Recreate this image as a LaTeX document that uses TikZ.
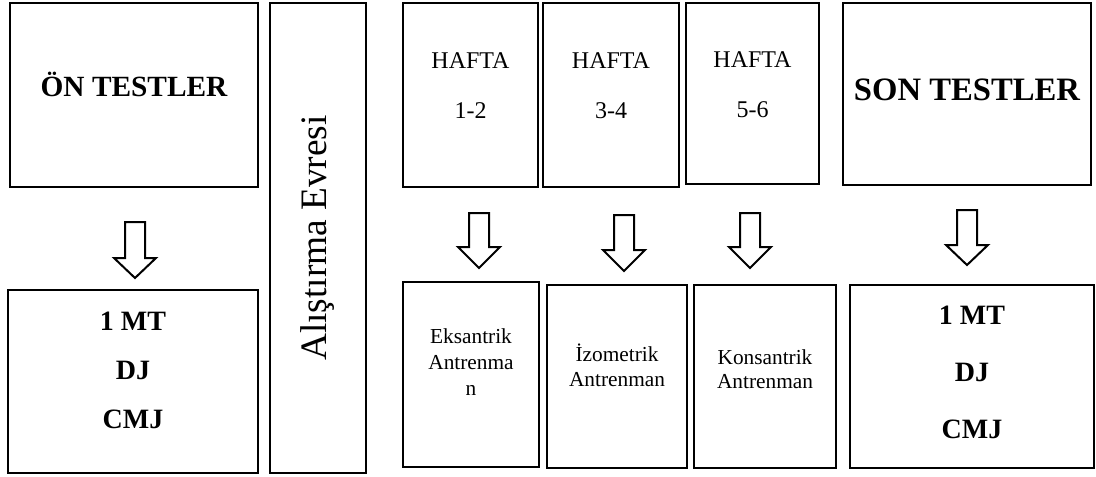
\documentclass[tikz,border=0pt]{standalone}
\usepackage{fontspec}
\setmainfont{Liberation Serif}
\begin{document}
\begin{tikzpicture}[x=0.75pt,y=-0.75pt,
    kutu/.style 2 args={draw,line width=2.2pt,minimum width=#1*0.75pt,minimum height=#2*0.75pt,inner sep=0pt,align=center},
    kaydir/.style={execute at end node={\rule[-#1]{0pt}{0pt}}},
    ok/.style={draw,line width=1.5pt,line join=miter}]
    \useasboundingbox (0,0) rectangle (1096,476);

    % testler
    \node[kutu={248}{184},kaydir=16.5pt,font=\fontsize{22}{26}\selectfont\bfseries] (on) at (134,95) {ÖN TESTLER};
    \node[kutu={250}{183},kaydir=16.5pt,font=\fontsize{21}{36.75}\selectfont\bfseries] (onsonuc) at (133,381.5) {1 MT\\DJ\\CMJ};
    \node[kutu={248}{182},kaydir=6pt,font=\fontsize{24.5}{28}\selectfont\bfseries] (son) at (967,94) {SON TESTLER};
    \node[kutu={244}{183},kaydir=6pt,font=\fontsize{21}{42.75}\selectfont\bfseries] (sonsonuc) at (972,376.5) {1 MT\\DJ\\CMJ};

    % alistirma evresi
    \node[kutu={96}{470},line width=1.6pt,font=\fontsize{28}{32}\selectfont] (alis) at (318,238) {\rotatebox{90}{Alıştırma Evresi}};

    % haftalar
    \node[kutu={135}{184},kaydir=13.5pt,font=\fontsize{18}{37.5}\selectfont] (h12) at (470.5,95) {HAFTA\\1-2};
    \node[kutu={136}{184},kaydir=13.5pt,font=\fontsize{18}{37.5}\selectfont] (h34) at (611,95) {HAFTA\\3-4};
    \node[kutu={133}{181},kaydir=13.5pt,font=\fontsize{18}{37.5}\selectfont] (h56) at (752.5,93.5) {HAFTA\\5-6};

    % antrenmanlar
    \node[kutu={136}{185},kaydir=18pt,font=\fontsize{16}{19.5}\selectfont] (eks) at (471,374.5) {Eksantrik\\Antrenma\\n};
    \node[kutu={140}{183},kaydir=16.5pt,font=\fontsize{16}{19}\selectfont] (izo) at (617,376.5) {İzometrik\\Antrenman};
    \node[kutu={142}{183},kaydir=10.5pt,font=\fontsize{16}{18}\selectfont] (kon) at (765,376.5) {Konsantrik\\Antrenman};

    % oklar
    \coordinate (ok1) at (135,222);
    \coordinate (ok2) at (479,213);
    \coordinate (ok3) at (624,215);
    \coordinate (ok4) at (750,213);
    \coordinate (ok5) at (967,210);
    \draw[ok] (ok1) ++(-10,0) -- ++(0,36) -- ++(-11,0) -- ++(21,20) -- ++(21,-20) -- ++(-11,0) -- ++(0,-36) -- cycle;
    \draw[ok] (ok2) ++(-10,0) -- ++(0,34) -- ++(-11,0) -- ++(21,21) -- ++(21,-21) -- ++(-11,0) -- ++(0,-34) -- cycle;
    \draw[ok] (ok3) ++(-10,0) -- ++(0,35) -- ++(-11,0) -- ++(21,21) -- ++(21,-21) -- ++(-11,0) -- ++(0,-35) -- cycle;
    \draw[ok] (ok4) ++(-10,0) -- ++(0,34) -- ++(-11,0) -- ++(21,21) -- ++(21,-21) -- ++(-11,0) -- ++(0,-34) -- cycle;
    \draw[ok] (ok5) ++(-10,0) -- ++(0,35) -- ++(-11,0) -- ++(21,20) -- ++(21,-20) -- ++(-11,0) -- ++(0,-35) -- cycle;
\end{tikzpicture}
\end{document}
